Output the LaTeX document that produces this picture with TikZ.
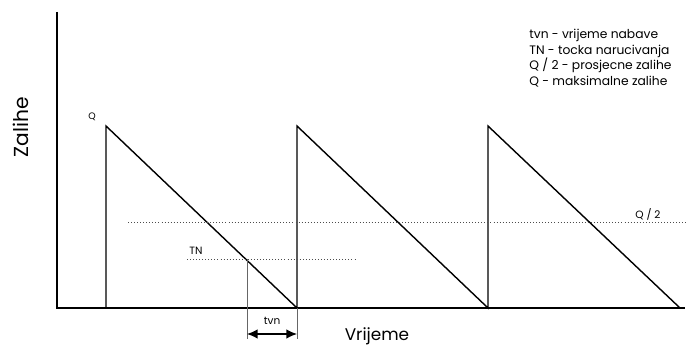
\documentclass[tikz,border=0pt]{standalone}
\usepackage{fontspec}
\setmainfont{Poppins}
\usetikzlibrary{arrows.meta,positioning,calc}

\begin{document}
\begin{tikzpicture}[
  x=0.03cm, y=-0.03cm,
  font=\small,
  axis/.style={line width=1.6pt},
  saw/.style={line width=1.2pt},
  level/.style={dotted, line width=0.6pt, black!70},
  helper/.style={line width=0.6pt, black!60},
  lbl/.style={inner sep=1pt},
]
\useasboundingbox (0,0) rectangle (687,347);
% axes
\coordinate (o) at (57,308);
\coordinate (ytop) at (57,12);
\coordinate (xend) at (685,308);
\draw[axis] (ytop) -- (o) -- (xend);
\node[font=\LARGE, rotate=90] (zal) at (21,127) {Zalihe};
\node[font=\Large] (vri) at (377,336) {Vrijeme};

% sawtooth
\coordinate (b1) at (106,308); \coordinate (p1) at (106,126);
\coordinate (b2) at (297,308); \coordinate (p2) at (297,126);
\coordinate (b3) at (488,308); \coordinate (p3) at (488,126);
\coordinate (b4) at (680,308);
\draw[saw] (b1) -- (p1) -- (b2) -- (p2) -- (b3) -- (p3) -- (b4);
\node[lbl, font=\footnotesize] (q) at (92,117) {Q};

% levels
\coordinate (h1) at (128,222); \coordinate (h2) at (687,222);
\draw[level] (h1) -- (h2);
\node[lbl] (half) at (648,214) {Q / 2};
\coordinate (t1) at (187,259); \coordinate (t2) at (355,259);
\draw[level] (t1) -- (t2);
\node[lbl] (tn) at (196,251) {TN};

% lead time
\coordinate (tn0) at (247,259);
\coordinate (l1) at (247,339); \coordinate (l2) at (297,339);
\draw[helper] (tn0) -- (l1);
\draw[helper] (b2) -- (l2);
\coordinate (a1) at (247,334); \coordinate (a2) at (297,334);
\draw[line width=1pt, {Latex[length=9pt,width=8pt]}-{Latex[length=9pt,width=8pt]}] (a1) -- (a2);
\node[lbl] (tvn) at (272,321) {tvn};

% legend
\node[lbl, anchor=west, align=left, font=\fontsize{10.5}{13.2}\selectfont] (leg) at (528,58)
  {tvn - vrijeme nabave\\TN - tocka narucivanja\\Q / 2 - prosjecne zalihe\\Q - maksimalne zalihe};
\end{tikzpicture}
\end{document}
